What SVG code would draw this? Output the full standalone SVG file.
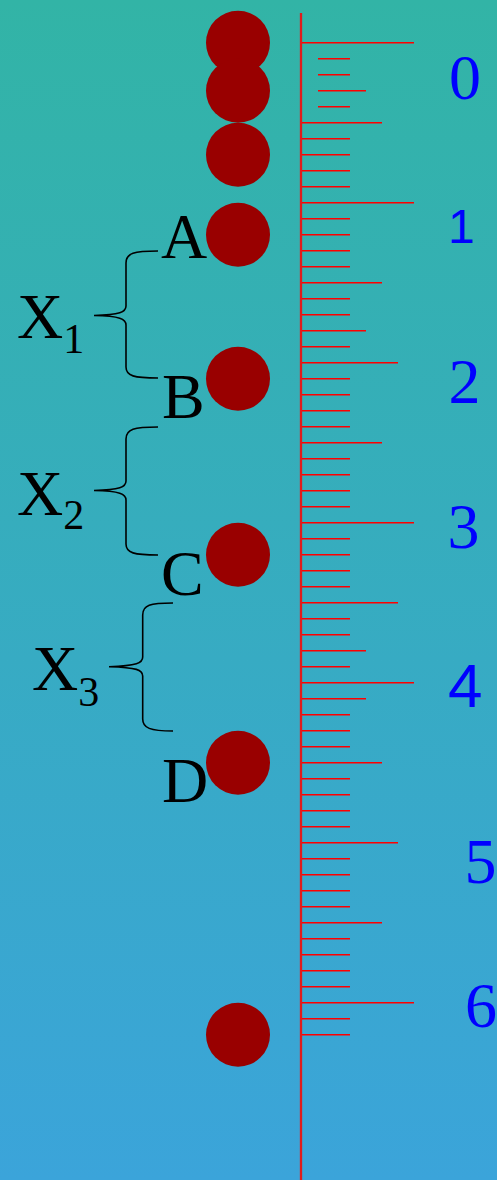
<svg xmlns="http://www.w3.org/2000/svg" width="497" height="1180" viewBox="0 0 497 1180">
<defs>
<linearGradient id="bg" x1="0" y1="0" x2="0" y2="1">
<stop offset="0" stop-color="#32b4a6"/>
<stop offset="1" stop-color="#3ba4da"/>
</linearGradient>
<style>
.tick{stroke:#ff0000;stroke-width:1.4;fill:none}
.axis{stroke:#e01c1c;stroke-width:2.3}
.ball{fill:#990000}
.num{fill:#0000ff;font-family:"Liberation Serif","Times New Roman",serif;font-size:64px;text-anchor:middle}
.nums{fill:#0000ff;font-family:"Liberation Sans",Arial,sans-serif}
.lbl{fill:#000;font-family:"Liberation Serif","Times New Roman",serif;font-size:64px}
.brace{stroke:#000;stroke-width:1.6;fill:none}
</style>
</defs>
<rect x="0" y="0" width="497" height="1180" fill="url(#bg)"/>
<g id="ruler">
<line class="axis" x1="301" y1="13" x2="301" y2="1180"/>
<path class="tick" d="M302 42.7H414 M318 58.7H350 M318 74.7H350 M318 90.7H366 M318 106.7H350 M302 122.7H382 M302 138.7H350 M302 154.7H350 M302 170.7H350 M302 186.7H350 M302 202.7H414 M302 218.7H350 M302 234.7H350 M302 250.7H350 M302 266.7H350 M302 282.7H382 M302 298.7H350 M302 314.7H350 M302 330.7H366 M302 346.7H350 M302 362.7H398 M302 378.7H350 M302 394.7H350 M302 410.7H350 M302 426.7H350 M302 442.7H382 M302 458.7H350 M302 474.7H350 M302 490.7H350 M302 506.7H350 M302 522.7H414 M302 538.7H350 M302 554.7H350 M302 570.7H350 M302 586.7H350 M302 602.7H398 M302 618.7H350 M302 634.7H350 M302 650.7H366 M302 666.7H350 M302 682.7H414 M302 698.7H366 M302 714.7H350 M302 730.7H350 M302 746.7H350 M302 762.7H382 M302 778.7H350 M302 794.7H350 M302 810.7H350 M302 826.7H350 M302 842.7H398 M302 858.7H350 M302 874.7H350 M302 890.7H350 M302 906.7H350 M302 922.7H382 M302 938.7H350 M302 954.7H350 M302 970.7H350 M302 986.7H350 M302 1002.7H414 M302 1018.7H350 M302 1034.7H350"/>
</g>
<g id="scale-numbers">
<text class="num" x="465" y="99">0</text>
<text class="nums" x="448" y="243.3" font-size="48">1</text>
<text class="num" x="464.5" y="403">2</text>
<text class="num" x="463.5" y="548">3</text>
<text class="nums" x="448" y="707" font-size="62">4</text>
<text class="num" x="480.5" y="882.7">5</text>
<text class="num" x="481" y="1026.7">6</text>
</g>
<g id="balls">
<circle id="ball1" class="ball" cx="238" cy="42.7" r="32"/>
<circle id="ball2" class="ball" cx="238" cy="90.7" r="32"/>
<circle id="ball3" class="ball" cx="238" cy="154.7" r="32"/>
<circle id="ballA" class="ball" cx="238" cy="234.7" r="32"/>
<circle id="ballB" class="ball" cx="238" cy="378.7" r="32"/>
<circle id="ballC" class="ball" cx="238" cy="554.7" r="32"/>
<circle id="ballD" class="ball" cx="238" cy="762.7" r="32"/>
<circle id="ball8" class="ball" cx="238" cy="1034.7" r="32"/>
</g>
<g id="point-labels">
<text id="labelA" class="lbl" x="161" y="258.3">A</text>
<text id="labelB" class="lbl" x="162" y="418">B</text>
<text id="labelC" class="lbl" x="161" y="595">C</text>
<text id="labelD" class="lbl" x="162" y="801.7">D</text>
</g>
<g id="connectors">
<path id="brace1" class="brace" d="M158 251 C134 251 126 253 126 263 L126 306 C126 312 120 315 94 315.5 C120 316 126 319 126 325 L126 367 C126 376 134 378 158 378"/>
<path id="brace2" class="brace" d="M158 427 C134 427 126 429 126 439 L126 481 C126 487 120 490 94 490.5 C120 491 126 494 126 500 L126 544 C126 553 134 555 158 555"/>
<path id="brace3" class="brace" d="M173 603 C150 603 142.7 605 142.7 615 L142.7 657 C142.7 663 137 666 109 666.7 C137 667.4 142.7 670 142.7 676 L142.7 719 C142.7 728 150 731 173 731"/>
</g>
<g id="interval-labels">
<text id="X1" class="lbl" x="17" y="338.3">X<tspan font-size="42" dy="15">1</tspan></text>
<text id="X2" class="lbl" x="17" y="515">X<tspan font-size="42" dy="14.3">2</tspan></text>
<text id="X3" class="lbl" x="32" y="690">X<tspan font-size="42" dy="16">3</tspan></text>
</g>
</svg>
